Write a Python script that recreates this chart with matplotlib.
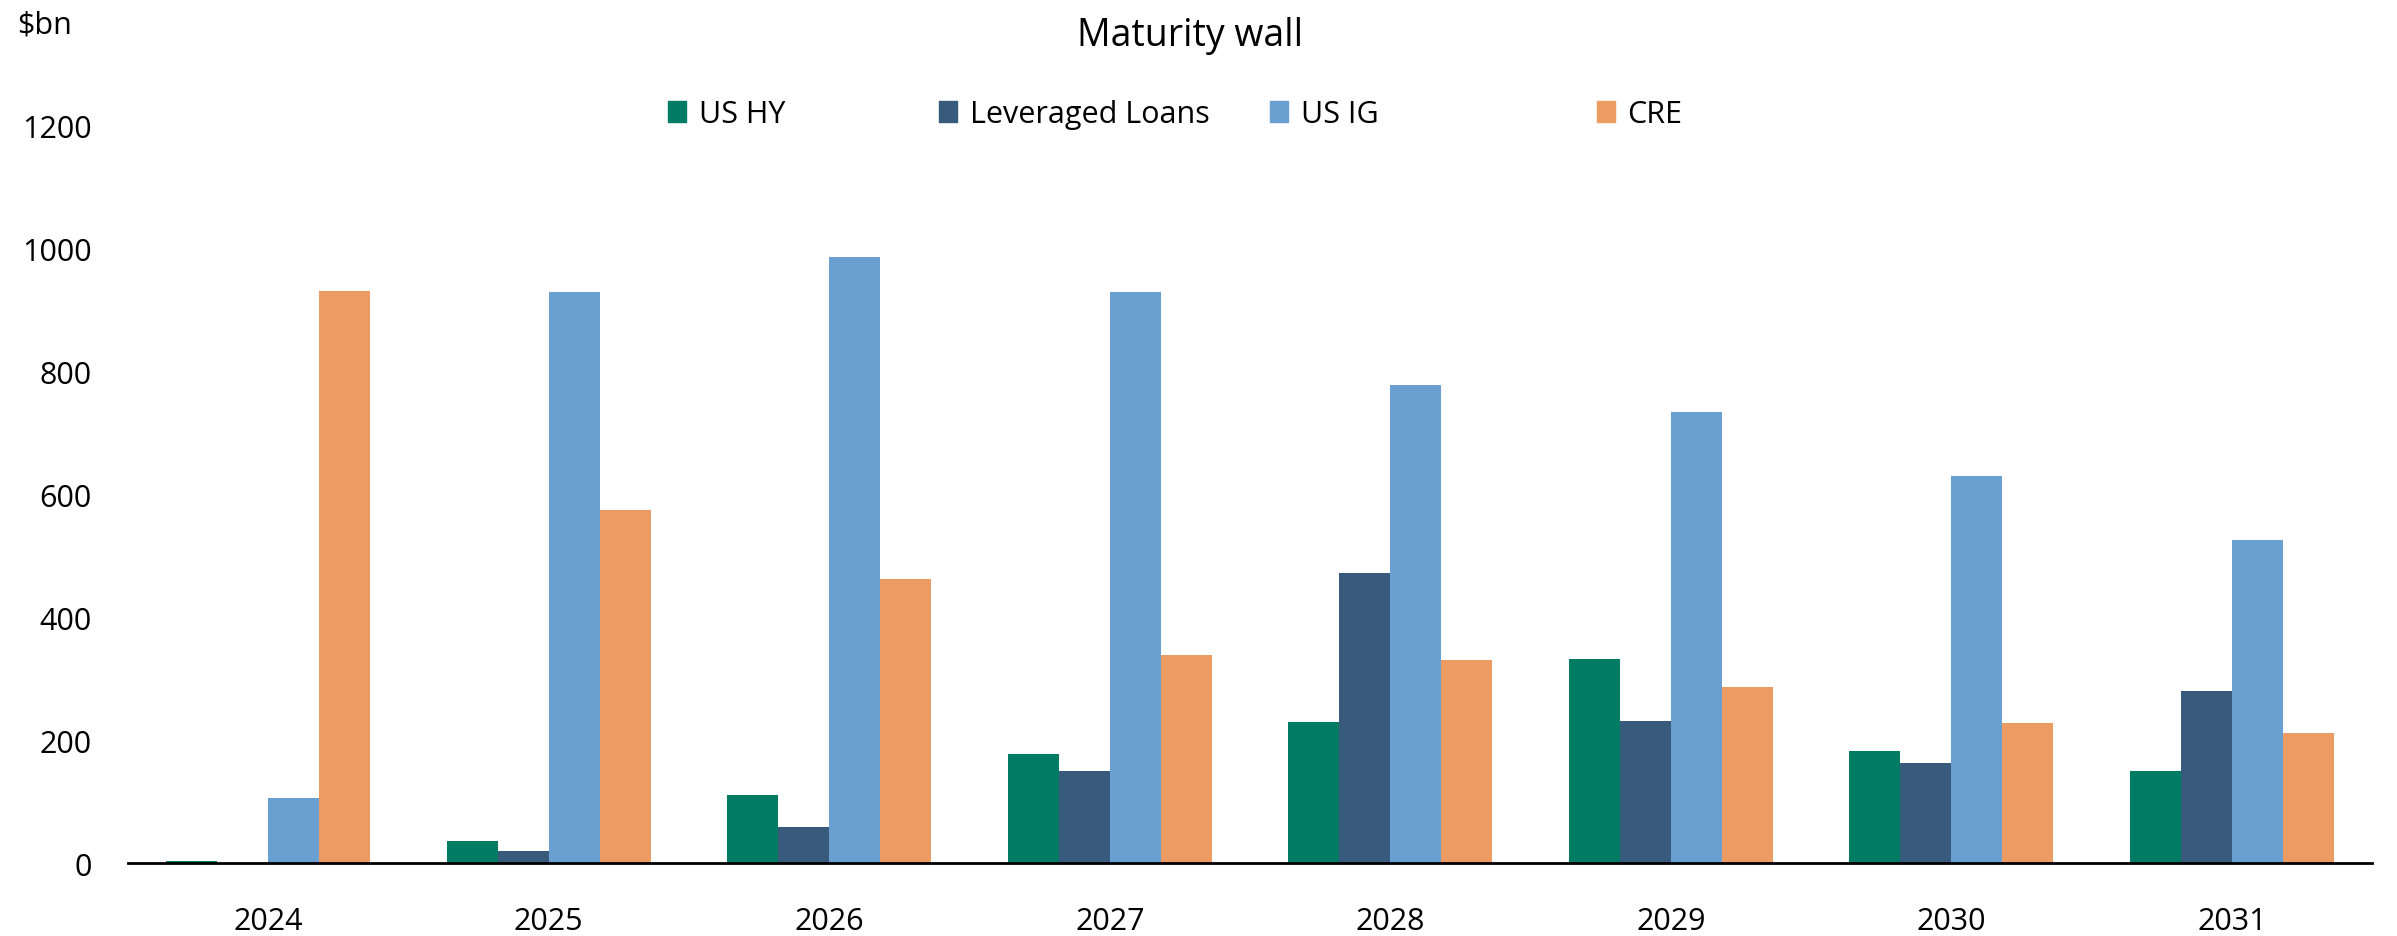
import numpy as np
import matplotlib.pyplot as plt
from matplotlib.patches import Patch

plt.rcParams['font.family'] = ['Open Sans', 'DejaVu Sans']

years = ["2024", "2025", "2026", "2027", "2028", "2029", "2030", "2031"]
us_hy = [4, 36, 111, 178, 230, 332, 182, 150]
lev_loans = [0, 20, 58, 149, 472, 231, 163, 280]
us_ig = [106, 929, 986, 929, 778, 735, 630, 526]
cre = [932, 574, 462, 338, 331, 287, 228, 212]

series = ["US HY", "Leveraged Loans", "US IG", "CRE"]
colors = ["#007C64", "#385A7C", "#6A9FD1", "#EC9B62"]

fig = plt.figure(figsize=(23.97, 9.37), dpi=100)
ax = fig.add_axes([0.0534, 0.0779, 0.9362, 0.7866])

x = np.arange(len(years))
w = 0.182
for i, (vals, c) in enumerate(zip([us_hy, lev_loans, us_ig, cre], colors)):
    ax.bar(x + (i - 1.5) * w, vals, width=w, color=c, linewidth=0)

ax.set_xlim(-0.5, len(years) - 0.5)
ax.set_ylim(0, 1200)
ax.set_yticks(np.arange(0, 1201, 200))
ax.set_xticks(x)
ax.set_xticklabels(years)
for s in ["top", "right", "left"]:
    ax.spines[s].set_visible(False)
ax.spines["bottom"].set_linewidth(2)
ax.spines["bottom"].set_color("black")
ax.tick_params(axis="x", length=0, pad=31, labelsize=22)
ax.tick_params(axis="y", length=0, pad=26, labelsize=22)

fig.text(0.4965, 0.962, "Maturity wall", ha="center", va="center", fontsize=27)
fig.text(0.007, 0.973, "$bn", ha="left", va="center", fontsize=22)

# legend entries placed individually
leg_x = [668, 939, 1270, 1597]
for name, c, lx in zip(series, colors, leg_x):
    lg = fig.legend(handles=[Patch(color=c, label=name)], loc="center left",
                    bbox_to_anchor=(lx / 2397, 0.877), frameon=False,
                    fontsize=22, handlelength=0.6, handleheight=0.65,
                    handletextpad=0.4, borderpad=0, borderaxespad=0)

fig.savefig("out.png", dpi=100)
